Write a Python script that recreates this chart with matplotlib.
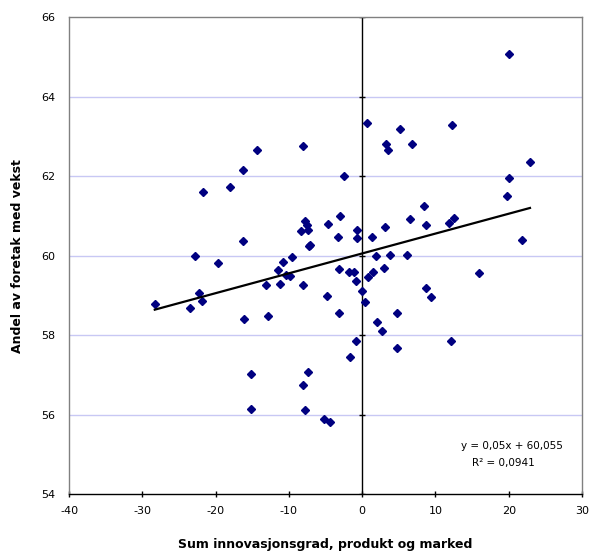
import numpy as np
import matplotlib
matplotlib.use('Agg')
from matplotlib import pyplot as plt

# innovation score (x) and share of firms with growth (y)
innov = [-14.4, -8.13, -16.3, -18.05, -21.7, -7.82, -7.59, -7.45, -8.32, -16.3,
         -7.27, -7.09, -22.8, -9.6, -10.8, 20.1, 0.64, 12.24, 5.1, 3.27,
         3.46, 6.78, -2.54, 22.9, 19.97, 19.7, 8.42, -3.04, -4.64, 6.55,
         8.73, 11.87, 12.55, -0.68, -0.68, -3.27, 1.28, 3.14, 21.8, 1.83,
         3.78, 6.1, -19.7, -11.46, -10.37, -9.86, -11.27, -13.1, -8.09, -28.3,
         -22.2, -21.8, -23.5, -16.1, -12.8, -15.2, -7.45, -8.13, -15.2, -7.82,
         -3.13, -1.86, -1.17, -0.86, 0.0, 0.32, 0.82, 1.46, 3.0, -4.86,
         -3.13, 2.0, 2.64, 4.78, -0.86, -1.64, 4.78, 12.06, 8.73, 9.41,
         15.9, -5.22, -4.45]
growth = [62.65, 62.75, 62.16, 61.73, 61.61, 60.88, 60.77, 60.64, 60.61, 60.37,
          60.23, 60.27, 60.0, 59.97, 59.84, 65.07, 63.35, 63.30, 63.2, 62.82,
          62.65, 62.81, 62.01, 62.35, 61.95, 61.50, 61.25, 61.01, 60.79, 60.92,
          60.76, 60.82, 60.94, 60.65, 60.45, 60.46, 60.48, 60.72, 60.40, 60.0,
          60.02, 60.02, 59.82, 59.63, 59.50, 59.48, 59.29, 59.26, 59.26, 58.77,
          59.05, 58.87, 58.68, 58.40, 58.49, 57.02, 57.06, 56.75, 56.15, 56.12,
          59.67, 59.58, 59.58, 59.35, 59.12, 58.83, 59.45, 59.58, 59.70, 58.99,
          58.56, 58.32, 58.11, 58.56, 57.86, 57.46, 57.68, 57.86, 59.18, 58.96,
          59.57, 55.88, 55.81]

# linear trend as given in the chart
slope = 0.05
intercept = 60.055
r2 = 0.0941

xticks = [-40, -30, -20, -10, 0, 10, 20, 30]
yticks = [54, 56, 58, 60, 62, 64, 66]

fig = plt.figure(figsize=(5.91, 5.55), dpi=100)
ax = fig.add_axes([0.1168, 0.1099, 0.868, 0.859])

for yy in yticks[1:-1]:
    ax.axhline(yy, color='#c8c8f4', linewidth=1, zorder=0)

# y axis crossing at x=0, with small tick marks
ax.axvline(0, color='black', linewidth=1, zorder=1)
ax.plot(np.zeros(len(yticks)), yticks, marker='_', markersize=4, ls='none',
        color='black', markeredgewidth=1, zorder=1)

ax.plot(innov, growth, marker='D', ls='none', markersize=3.8,
        color='#000080', zorder=3)

xl = np.array([min(innov), max(innov)])
ax.plot(xl, slope*xl+intercept, color='black', linewidth=1.6, zorder=4)

ax.text(20.5, 55.21, 'y = 0,05x + 60,055', ha='center', va='center', fontsize=7.5)
ax.text(19.3, 54.78, 'R\u00b2 = ' + str(r2).replace('.', ','), ha='center',
        va='center', fontsize=7.5)

ax.set_xlim(-40, 30)
ax.set_ylim(54, 66)
ax.set_xticks(xticks)
ax.set_yticks(yticks)
ax.set_xticklabels([str(t) for t in xticks], fontsize=8)
ax.set_yticklabels([str(t) for t in yticks], fontsize=8)
ax.tick_params(axis='x', direction='inout', length=5, width=1, pad=6)
ax.tick_params(axis='y', length=0, pad=10)

for s in ['left', 'top', 'right']:
    ax.spines[s].set_color('#808080')
    ax.spines[s].set_linewidth(1)
ax.spines['bottom'].set_color('black')
ax.spines['bottom'].set_linewidth(1)

ax.set_xlabel('Sum innovasjonsgrad, produkt og marked', fontsize=9,
              fontweight='bold', labelpad=16)
ax.set_ylabel('Andel av foretak med vekst', fontsize=9, fontweight='bold',
              labelpad=12)

fig.savefig('out.png', dpi=100)
